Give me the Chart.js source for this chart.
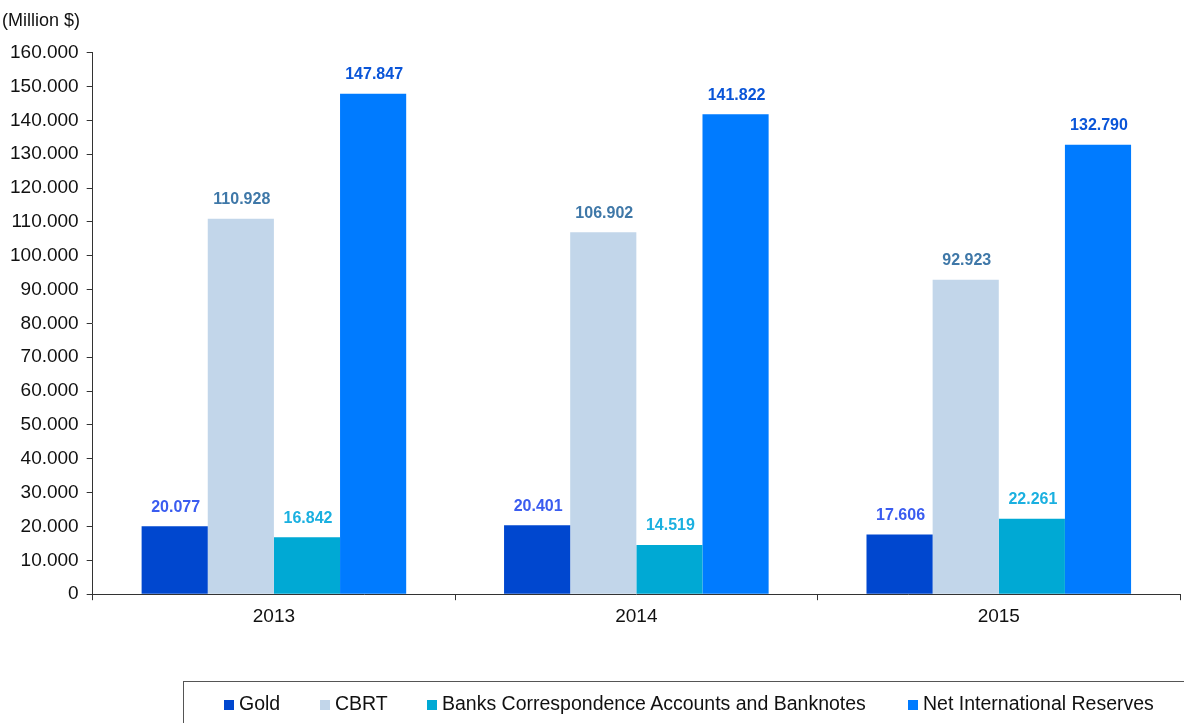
<!DOCTYPE html>
<html lang="en">
<head>
    <meta charset="UTF-8">
    <title>Reserves</title>
    <script src="https://cdn.jsdelivr.net/npm/chart.js@4.4.0/dist/chart.umd.min.js"></script>
    <style type="text/css">
        html, body {
            margin: 0; padding: 0; background: #ffffff;
        }
        #wrap {
            position: relative;
            width: 1184px;
            height: 723px;
            overflow: hidden;
        }
        #legend {
            position: absolute;
            left: 183px;
            top: 681px;
            width: 1010px;
            height: 60px;
            border: 1px solid #555555;
            box-sizing: border-box;
            font-family: "Liberation Sans", Arial, sans-serif;
            font-size: 19.5px;
            color: #111111;
        }
        #legend .box {
            position: absolute;
            top: 18px;
            width: 10px;
            height: 10px;
        }
        #legend .text {
            position: absolute;
            top: 10px;
            white-space: nowrap;
        }
    </style>
</head>
<body>
    <div id="wrap">
        <canvas id="chart" width="1184" height="723"></canvas>
        <div id="legend"></div>
    </div>

    <script>
        // Chart values
        const years = ["2013", "2014", "2015"];
        const gold = [20077, 20401, 17606];
        const cbrt = [110928, 106902, 92923];
        const banks = [16842, 14519, 22261];
        const netReserves = [147847, 141822, 132790];

        const seriesNames = ["Gold", "CBRT", "Banks Correspondence Accounts and Banknotes", "Net International Reserves"];
        const barColors = ["#0047cf", "#c2d6ea", "#00a9d4", "#007bff"];
        const labelColors = ["#3a5cf0", "#3f78a8", "#1ab0e0", "#0a55d8"];
        // legend square x inside the legend box
        const legendLeft = [40, 136, 243, 724];

        const fmt = v => v.toLocaleString("de-DE");
        const font = "'Liberation Sans', Arial, sans-serif";

        // Draws the value labels above each bar
        const valueLabels = {
            id: "valueLabels",
            afterDatasetsDraw(chart) {
                const ctx = chart.ctx;
                ctx.save();
                ctx.font = "bold 16px " + font;
                ctx.textAlign = "center";
                ctx.textBaseline = "bottom";
                chart.data.datasets.forEach((ds, i) => {
                    const meta = chart.getDatasetMeta(i);
                    meta.data.forEach((bar, j) => {
                        ctx.fillStyle = labelColors[i];
                        ctx.fillText(fmt(ds.data[j]), bar.x + 1, bar.y - 11);
                    });
                });
                ctx.restore();
            }
        };

        const datasets = [gold, cbrt, banks, netReserves].map((values, i) => ({
            label: seriesNames[i],
            data: values,
            backgroundColor: barColors[i],
            borderWidth: 0,
            categoryPercentage: 0.73,
            barPercentage: 1.0,
        }));

        const chart = new Chart(document.getElementById("chart"), {
            type: "bar",
            data: { labels: years, datasets: datasets },
            options: {
                responsive: false,
                animation: false,
                layout: { padding: { left: 2, right: 4, top: 0, bottom: 90 } },
                plugins: {
                    legend: { display: false },
                    tooltip: { enabled: false },
                    title: {
                        display: true,
                        text: "(Million $)",
                        align: "start",
                        color: "#111111",
                        font: { family: font, size: 18, weight: "normal" },
                        padding: { top: 10, bottom: 21 },
                    },
                },
                scales: {
                    x: {
                        offset: true,
                        grid: {
                            offset: true,
                            drawOnChartArea: false,
                            color: "#333333",
                            tickLength: 6,
                        },
                        border: { color: "#333333", width: 1 },
                        ticks: {
                            color: "#111111",
                            padding: 5,
                            font: { family: font, size: 19 },
                        },
                    },
                    y: {
                        min: 0,
                        max: 160000,
                        grid: {
                            drawOnChartArea: false,
                            color: "#333333",
                            tickLength: 6,
                        },
                        border: { color: "#333333", width: 1 },
                        ticks: {
                            stepSize: 10000,
                            color: "#111111",
                            padding: 8,
                            font: { family: font, size: 19 },
                            callback: v => fmt(v),
                        },
                    },
                },
            },
            plugins: [valueLabels],
        });

        // HTML legend in a box below the chart
        const legend = document.getElementById("legend");
        seriesNames.forEach((name, i) => {
            const box = document.createElement("span");
            box.className = "box";
            box.style.left = legendLeft[i] + "px";
            box.style.background = barColors[i];
            legend.appendChild(box);
            const text = document.createElement("span");
            text.className = "text";
            text.style.left = (legendLeft[i] + 15) + "px";
            text.textContent = name;
            legend.appendChild(text);
        });
    </script>
</body>
</html>
